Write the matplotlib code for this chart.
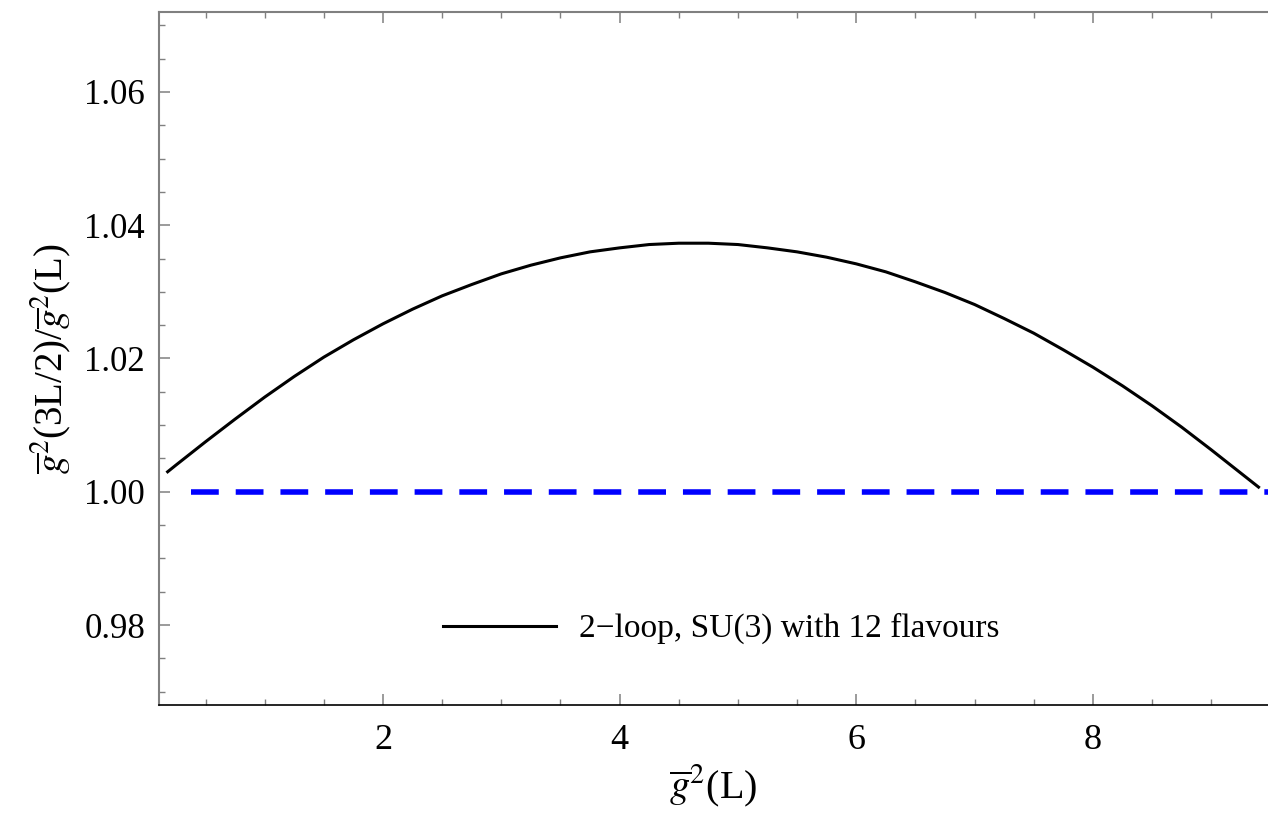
import numpy as np
import matplotlib
matplotlib.use('Agg')
import matplotlib.pyplot as plt
from matplotlib.ticker import MultipleLocator

plt.rcParams['font.family'] = ['Liberation Serif', 'DejaVu Serif']
plt.rcParams['mathtext.fontset'] = 'stix'
plt.rcParams['lines.scale_dashes'] = False

# data: 2-loop ratio g^2(3L/2)/g^2(L) vs g^2(L)
g2 = [0.18, 0.25, 0.5, 0.75, 1.0, 1.25, 1.5, 1.75, 2.0, 2.25, 2.5, 2.75, 3.0,
      3.25, 3.5, 3.75, 4.0, 4.25, 4.5, 4.75, 5.0, 5.25, 5.5, 5.75, 6.0, 6.25,
      6.5, 6.75, 7.0, 7.25, 7.5, 7.75, 8.0, 8.25, 8.5, 8.75, 9.0, 9.2, 9.4]
ratio = [1.0030, 1.0040, 1.0075, 1.0109, 1.0142, 1.0173, 1.0202, 1.0228, 1.0252,
         1.0274, 1.0294, 1.0311, 1.0327, 1.0340, 1.0351, 1.0360, 1.0366, 1.0371,
         1.0373, 1.0373, 1.0371, 1.0366, 1.0360, 1.0352, 1.0342, 1.0330, 1.0315,
         1.0299, 1.0281, 1.0260, 1.0238, 1.0213, 1.0187, 1.0159, 1.0129, 1.0097,
         1.0063, 1.0035, 1.0007]
ref_x = [0.38, 9.48]
ref_y = [1.0, 1.0]
xticks = [2, 4, 6, 8]
yticks = [0.98, 1.00, 1.02, 1.04, 1.06]
legend_label = '2\u2212loop, SU(3) with 12 flavours'

fig = plt.figure(figsize=(12.68, 8.14), dpi=100)
ax = fig.add_axes([0.1254, 0.1339, 0.8746, 0.8514])

ax.plot(ref_x, ref_y, color='#0000ff', lw=4.0, dashes=(20, 12.2), solid_capstyle='butt')
ax.plot(g2, ratio, color='black', lw=2.2, label=legend_label, solid_joinstyle='round')

ax.set_xlim(0.107, 9.48)
ax.set_ylim(0.968, 1.072)
ax.set_xticks(xticks)
ax.set_yticks(yticks)
ax.set_yticklabels(['%.2f' % v for v in yticks])
ax.xaxis.set_minor_locator(MultipleLocator(0.5))
ax.yaxis.set_minor_locator(MultipleLocator(0.005))

grey = '#808080'
ax.tick_params(which='both', direction='in', top=True, right=False, color=grey,
               labelsize=25, labelcolor='black')
ax.tick_params(which='major', length=8, width=1.1)
ax.tick_params(which='minor', length=4.5, width=1.0)
ax.tick_params(axis='x', pad=14, labelsize=26)
ax.tick_params(axis='y', pad=10)

ax.spines['right'].set_visible(False)
ax.spines['left'].set_color(grey)
ax.spines['top'].set_color(grey)
ax.spines['left'].set_linewidth(1.5)
ax.spines['top'].set_linewidth(1.5)
ax.spines['bottom'].set_color('black')
ax.spines['bottom'].set_linewidth(1.2)

ax.set_xlabel(r'$\overline{g}^{2}$(L)', fontsize=29, labelpad=4)
ax.set_ylabel(r'$\overline{g}^{2}$(3L/2)/$\overline{g}^{2}$(L)', fontsize=28, labelpad=8)

ax.legend(loc='center', bbox_to_anchor=(0.507, 0.11), frameon=False, fontsize=24,
          handlelength=3.4, handletextpad=0.7)

fig.savefig('out.png', dpi=100)
